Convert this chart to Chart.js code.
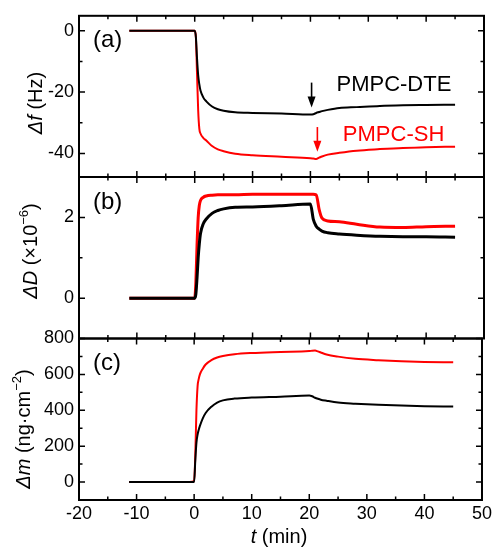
<!DOCTYPE html>
<html>
<head>
<meta charset="utf-8">
<script src="https://cdn.jsdelivr.net/npm/chart.js@4"></script>
<style>
html, body { margin: 0; padding: 0; background: #fff; }
#wrap { position: relative; width: 495px; height: 547px; }
canvas { position: absolute; left: 0; top: 0; }
</style>
</head>
<body>
<div id="wrap">
  <canvas id="cA" width="495" height="547"></canvas>
  <canvas id="cB" width="495" height="547"></canvas>
  <canvas id="cC" width="495" height="547"></canvas>
</div>
<script>
// time grid (min), shared by all curves
const time = [-11.3, -8, -5, -2, 0, 0.2, 0.4, 0.6, 0.8, 1, 1.5, 2, 3, 4, 5, 7, 10, 15, 20, 20.5, 21, 21.5, 22, 23, 25, 28, 32, 36, 40, 45];

// (a) frequency shift, Hz
const dfDTE = [0, 0, 0, 0, 0, -2, -9, -14.5, -17.5, -19.5, -21.8, -23, -24.7, -25.6, -26.1, -26.6, -26.8, -27, -27.3, -27.2, -26.8, -26.5, -26.2, -25.8, -25.2, -24.9, -24.5, -24.3, -24.2, -24.1];
const dfSH = [0, 0, 0, 0, 0, -2, -14, -26, -32, -33.5, -35, -35.8, -37.6, -38.7, -39.3, -40.1, -40.6, -41.1, -41.6, -41.7, -41.8, -41.4, -41, -40.4, -39.8, -39.1, -38.6, -38.2, -38, -37.8];

// (b) dissipation shift, x1e-6
const dDDTE = [0, 0, 0, 0, 0, 0.1, 0.5, 1.0, 1.35, 1.6, 1.85, 1.96, 2.1, 2.17, 2.21, 2.25, 2.26, 2.29, 2.33, 1.95, 1.78, 1.71, 1.66, 1.62, 1.59, 1.56, 1.53, 1.52, 1.52, 1.51];
const dDSH = [0, 0, 0, 0, 0, 0.4, 1.3, 2.0, 2.3, 2.42, 2.5, 2.53, 2.55, 2.56, 2.56, 2.56, 2.57, 2.57, 2.57, 2.57, 2.56, 2.2, 1.98, 1.91, 1.89, 1.83, 1.76, 1.75, 1.77, 1.78];

// (c) adsorbed mass, ng/cm2
const dmDTE = [0, 0, 0, 0, 0, 120, 220, 265, 292, 313, 355, 385, 420, 443, 455, 465, 471, 476, 482, 478, 470, 464, 459, 453, 443, 437, 431, 426, 423, 421];
const dmSH = [0, 0, 0, 0, 5, 150, 400, 535, 575, 600, 632, 655, 680, 694, 702, 712, 719, 725, 730, 732, 733, 728, 722, 711, 699, 687, 679, 673, 669, 667];

// ticks
const xTicks = [-20, -10, 0, 10, 20, 30, 40, 50];
const xMinor = [-15, -5, 5, 15, 25, 35, 45];
const yTicksA = [-40, -20, 0];
const yMinorA = [-30, -10];
const yTicksB = [0, 2];
const yMinorB = [1];
const yTicksC = [0, 200, 400, 600, 800];
const yMinorC = [100, 300, 500, 700];

const FONT = "'Liberation Sans', Arial, sans-serif";
Chart.defaults.font.family = FONT;
Chart.defaults.color = '#000';

const pts = arr => time.map((t, i) => ({ x: t, y: arr[i] }));

function frameTicks(yMaj, yMin) {
  return {
    id: 'frameTicks',
    afterDatasetsDraw(chart) {
      const { ctx, chartArea: a, scales: { x, y } } = chart;
      ctx.save();
      ctx.strokeStyle = '#000';
      ctx.lineWidth = 1.5;
      ctx.beginPath();
      const xt = (vals, len) => vals.forEach(v => {
        const p = x.getPixelForValue(v);
        ctx.moveTo(p, a.bottom); ctx.lineTo(p, a.bottom - len);
        ctx.moveTo(p, a.top); ctx.lineTo(p, a.top + len);
      });
      const yt = (vals, len) => vals.forEach(v => {
        const p = y.getPixelForValue(v);
        ctx.moveTo(a.left, p); ctx.lineTo(a.left + len, p);
        ctx.moveTo(a.right, p); ctx.lineTo(a.right - len, p);
      });
      xt(xTicks, 6); xt(xMinor, 3.5);
      yt(yMaj, 6); yt(yMin, 3.5);
      ctx.stroke();
      ctx.lineWidth = 2;
      ctx.strokeRect(a.left, a.top, a.right - a.left, a.bottom - a.top);
      ctx.restore();
    }
  };
}

// mixed italic / normal / superscript text, rotated about its baseline point
function richText(ctx, parts, bx, by, rot) {
  ctx.save();
  ctx.translate(bx, by);
  ctx.rotate(rot);
  ctx.textBaseline = 'alphabetic';
  ctx.textAlign = 'left';
  ctx.fillStyle = '#000';
  let total = 0;
  parts.forEach(p => { ctx.font = p.f; p.w = ctx.measureText(p.t).width; total += p.w; });
  let xx = -total / 2;
  parts.forEach(p => { ctx.font = p.f; ctx.fillText(p.t, xx, p.dy || 0); xx += p.w; });
  ctx.restore();
}

const IT = 'italic 20px ' + FONT;
const NR = '20px ' + FONT;
const SUP = '13px ' + FONT;

function decor(label, title, tx, ty, extra) {
  return {
    id: 'decor',
    afterDraw(chart) {
      const { ctx, chartArea: a } = chart;
      ctx.save();
      ctx.fillStyle = '#000';
      ctx.font = '24px ' + FONT;
      ctx.textBaseline = 'middle';
      ctx.fillText(label, a.left + 14, a.top + 25);
      ctx.restore();
      richText(ctx, title, tx, ty, -Math.PI / 2);
      if (extra) extra(chart);
    }
  };
}

function arrow(ctx, x, y0, y1, color) {
  ctx.save();
  ctx.strokeStyle = color; ctx.fillStyle = color; ctx.lineWidth = 1.6;
  ctx.beginPath(); ctx.moveTo(x, y0); ctx.lineTo(x, y1 - 8); ctx.stroke();
  ctx.beginPath(); ctx.moveTo(x - 4, y1 - 11); ctx.lineTo(x + 4, y1 - 11); ctx.lineTo(x, y1); ctx.closePath(); ctx.fill();
  ctx.restore();
}

function baseOptions(yMin, yMax, yTicks, top, bottom, showX) {
  return {
    responsive: false,
    animation: false,
    events: [],
    layout: { padding: { left: 0, right: 11, top: top, bottom: bottom } },
    plugins: { legend: { display: false }, tooltip: { enabled: false } },
    scales: {
      x: {
        type: 'linear', min: -20, max: 50, display: showX,
        afterBuildTicks: s => { s.ticks = xTicks.map(v => ({ value: v })); },
        afterFit: s => { s.height = showX ? 47 : 0; },
        grid: { display: false, drawTicks: false },
        border: { display: false },
        ticks: { font: { size: 18 }, padding: 3, autoSkip: false, maxRotation: 0 }
      },
      y: {
        type: 'linear', min: yMin, max: yMax,
        afterBuildTicks: s => { s.ticks = yTicks.map(v => ({ value: v })); },
        afterFit: s => { s.width = 79; },
        grid: { display: false, drawTicks: false },
        border: { display: false },
        ticks: { font: { size: 18 }, padding: 5 }
      }
    }
  };
}

function lineSet(arr, color, w) {
  return { data: pts(arr), borderColor: color, borderWidth: w, pointRadius: 0, fill: false, cubicInterpolationMode: 'monotone' };
}

new Chart(document.getElementById('cA'), {
  type: 'line',
  data: { datasets: [lineSet(dfDTE, '#000', 2), lineSet(dfSH, '#ff0000', 2)] },
  options: baseOptions(-47.7, 4.9, yTicksA, 15, 370, false),
  plugins: [frameTicks(yTicksA, yMinorA), decor('(a)',
    [{ t: '\u0394f', f: IT }, { t: ' (Hz)', f: NR }], 42, 103,
    chart => {
      const { ctx, scales: { x, y } } = chart;
      arrow(ctx, x.getPixelForValue(20.2), y.getPixelForValue(-16.9), y.getPixelForValue(-25), '#000');
      arrow(ctx, x.getPixelForValue(21.2), y.getPixelForValue(-31.4), y.getPixelForValue(-39.5), '#ff0000');
      ctx.save();
      ctx.font = '22px ' + FONT;
      ctx.textBaseline = 'middle';
      ctx.fillStyle = '#000';
      ctx.fillText('PMPC-DTE', x.getPixelForValue(24.5), y.getPixelForValue(-17.8));
      ctx.fillStyle = '#ff0000';
      ctx.fillText('PMPC-SH', x.getPixelForValue(25.6), y.getPixelForValue(-34));
      ctx.restore();
    })]
});

new Chart(document.getElementById('cB'), {
  type: 'line',
  data: { datasets: [lineSet(dDDTE, '#000', 3), lineSet(dDSH, '#ff0000', 3)] },
  options: baseOptions(-1, 3, yTicksB, 177, 208.5, false),
  plugins: [frameTicks(yTicksB, yMinorB), decor('(b)',
    [{ t: '\u0394D', f: IT }, { t: ' (\u00d710', f: NR }, { t: '\u22126', f: SUP, dy: -9 }, { t: ')', f: NR }], 37, 251)]
});

new Chart(document.getElementById('cC'), {
  type: 'line',
  data: { datasets: [lineSet(dmDTE, '#000', 2), lineSet(dmSH, '#ff0000', 2)] },
  options: baseOptions(-100, 800, yTicksC, 338.5, 0, true),
  plugins: [frameTicks(yTicksC, yMinorC), decor('(c)',
    [{ t: '\u0394m', f: IT }, { t: ' (ng\u00b7cm', f: NR }, { t: '\u22122', f: SUP, dy: -9 }, { t: ')', f: NR }], 30, 429,
    chart => {
      richText(chart.ctx, [{ t: 't', f: IT }, { t: ' (min)', f: NR }], 279, 543, 0);
    })]
});
</script>
</body>
</html>
